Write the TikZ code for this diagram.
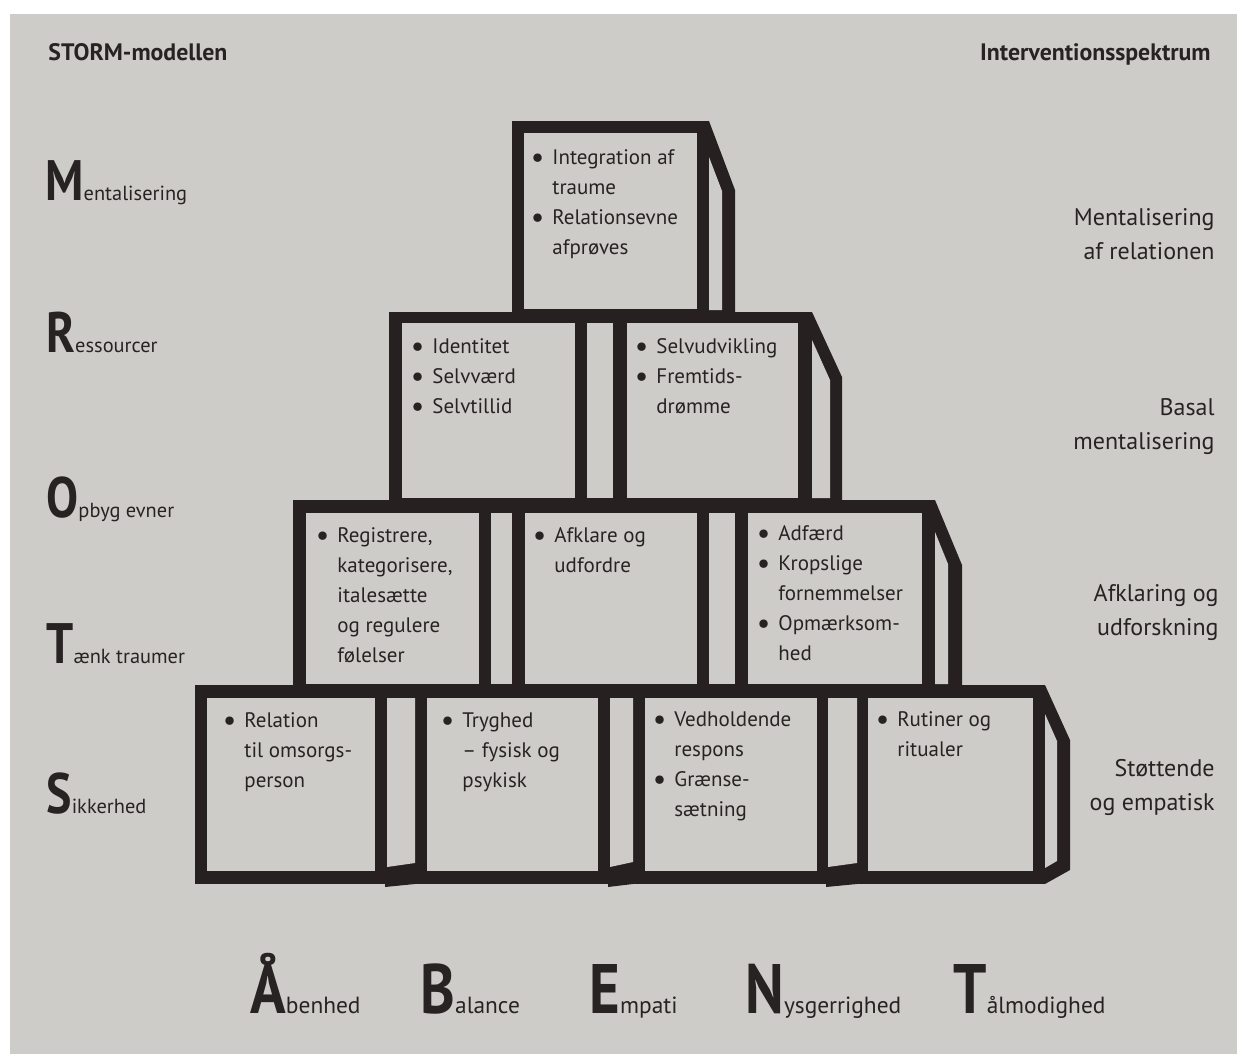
\documentclass[tikz,border=0pt]{standalone}
\usepackage{fontspec}
\setmainfont{PT Sans}
\newfontfamily\capfont{PT Sans}[FakeStretch=0.84]
\definecolor{paper}{RGB}{206,204,200}
\definecolor{ink}{RGB}{38,32,32}
\definecolor{type}{RGB}{40,35,35}
\newcommand\bul{\llap{\raisebox{-1.6pt}{\fontsize{15}{15}\selectfont\textbullet}\hspace{4pt}}}
\newcommand\boxfont{\fontsize{10.5}{15}\selectfont}
\newcommand\stormcap[1]{{\capfont\bfseries\fontsize{28.5}{30}\selectfont #1}}
\newcommand\stormrest[1]{{\fontsize{10.2}{12}\selectfont #1}}
\newcommand\abentcap[1]{{\capfont\bfseries\fontsize{35}{36}\selectfont #1}}
\newcommand\abentrest[1]{{\fontsize{11.7}{14}\selectfont #1}}
\begin{document}
\begin{tikzpicture}[x=0.5pt,y=-0.5pt,
  frame/.style={fill=ink},
  hollow/.style={fill=paper},
  boxtext/.style={anchor=north west,inner sep=0pt,align=left,text=type,font=\boxfont},
  spectrum/.style={anchor=north east,inner sep=0pt,align=right,text=type,font=\fontsize{12}{17}\selectfont},
  letterlbl/.style={anchor=base west,inner sep=0pt,text=type},
  heading/.style={inner sep=0pt,text=type,font=\bfseries\fontsize{11.9}{14}\selectfont}]
\useasboundingbox (0,0) rectangle (1237,1054);
\fill[white] (0,0) rectangle (1237,1054);
\fill[paper] (10,14) rectangle (1237,1054);

% --- top block ---
\fill[frame] (512,121) rectangle (709,312);
\fill[hollow] (524,133) rectangle (697,309);
\fill[frame] (709,121) -- (735,190) -- (735,312) -- (709,312) -- cycle;
\fill[hollow] (709,157) -- (722,191) -- (722,310) -- (709,310) -- cycle;

% --- second row ---
\fill[frame] (389,312) rectangle (812,500);
\fill[hollow] (402,323) rectangle (575,498);
\fill[hollow] (587,323) rectangle (613,498);
\fill[hollow] (627,323) rectangle (798,498);
\fill[frame] (812,312) -- (842,377) -- (842,500) -- (812,500) -- cycle;
\fill[hollow] (812,340) -- (830,380) -- (830,498) -- (812,498) -- cycle;

% --- third row ---
\fill[frame] (293,500) rectangle (935,686);
\fill[hollow] (306,513) rectangle (479,684);
\fill[hollow] (491,513) rectangle (512,684);
\fill[hollow] (525,513) rectangle (697,684);
\fill[hollow] (709,513) rectangle (735,684);
\fill[hollow] (748,513) rectangle (922,684);
\fill[frame] (935,500) -- (962,565) -- (962,686) -- (935,686) -- cycle;
\fill[hollow] (935,532) -- (948,564) -- (948,684) -- (935,684) -- cycle;

% --- bottom row ---
\fill[frame] (195,685) rectangle (1045,884);
\fill[hollow] (207,698) rectangle (375,871);
\fill[hollow] (387,698) -- (415,698) -- (415,863) -- (387,867) -- cycle;
\fill[hollow] (427,698) rectangle (598,871);
\fill[hollow] (610,698) -- (633,698) -- (633,862) -- (610,867) -- cycle;
\fill[hollow] (645,698) rectangle (817,871);
\fill[hollow] (828,698) -- (857,698) -- (857,863) -- (828,867) -- cycle;
\fill[hollow] (868,698) rectangle (1033,871);
\fill[frame] (385,883) -- (415,883) -- (415,884) -- (385,887) -- cycle;
\fill[frame] (608,883) -- (633,883) -- (633,884) -- (608,887) -- cycle;
\fill[frame] (826,883) -- (857,883) -- (857,884) -- (826,887) -- cycle;
\fill[frame] (1045,685) -- (1070,740) -- (1070,870) -- (1045,884) -- cycle;
\fill[hollow] (1045,714) -- (1057,741) -- (1057,861) -- (1045,868) -- cycle;

% --- block contents ---
\node[boxtext] (integration) at (552,143) {\strut\bul Integration af\\traume\\\bul Relationsevne\\afprøves};
\node[boxtext] (identitet) at (432,332) {\strut\bul Identitet\\\bul Selvværd\\\bul Selvtillid};
\node[boxtext] (selvudvikling) at (656,332) {\strut\bul Selvudvikling\\\bul Fremtids-\\drømme};
\node[boxtext] (registrere) at (337,521) {\strut\bul Registrere,\\kategorisere,\\italesætte\\og regulere\\følelser};
\node[boxtext] (afklare) at (554,521) {\strut\bul Afklare og\\udfordre};
\node[boxtext] (adfaerd) at (778,519) {\strut\bul Adfærd\\\bul Kropslige\\fornemmelser\\\bul Opmærksom-\\hed};
\node[boxtext] (relation) at (244,706) {\strut\bul Relation\\til omsorgs-\\person};
\node[boxtext] (tryghed) at (462,706) {\strut\bul Tryghed\\– fysisk og\\psykisk};
\node[boxtext] (vedholdende) at (674,705) {\strut\bul Vedholdende\\respons\\\bul Grænse-\\sætning};
\node[boxtext] (rutiner) at (897,705) {\strut\bul Rutiner og\\ritualer};

% --- headings ---
\node[heading,anchor=base west] (storm) at (48,61) {STORM-modellen};
\node[heading,anchor=base east] (spektrum) at (1211,61) {Interventionsspektrum};

% --- STORM letters ---
\node[letterlbl] (lm) at (45,200) {\stormcap{M}\stormrest{entalisering}};
\node[letterlbl] (lr) at (46,352) {\stormcap{R}\stormrest{essourcer}};
\node[letterlbl] (lo) at (46,517) {\stormcap{O}\stormrest{pbyg evner}};
\node[letterlbl] (lt) at (46,663) {\stormcap{T}\stormrest{ænk traumer}};
\node[letterlbl] (ls) at (46,813) {\stormcap{S}\stormrest{ikkerhed}};

% --- intervention spectrum ---
\node[spectrum] (sp1) at (1215,201) {\strut Mentalisering\\af relationen};
\node[spectrum] (sp2) at (1215,391) {\strut Basal\\mentalisering};
\node[spectrum] (sp3) at (1219,577) {\strut Afklaring og\\udforskning};
\node[spectrum] (sp4) at (1215,752) {\strut Støttende\\og empatisk};

% --- ÅBENT letters ---
\node[letterlbl] (ba) at (250,1013) {\abentcap{Å}\abentrest{benhed}};
\node[letterlbl] (bb) at (420,1013) {\abentcap{B}\abentrest{alance}};
\node[letterlbl] (be) at (589,1013) {\abentcap{E}\abentrest{mpati}};
\node[letterlbl] (bn) at (745,1013) {\abentcap{N}\abentrest{ysgerrighed}};
\node[letterlbl] (bt) at (953,1013) {\abentcap{T}\abentrest{ålmodighed}};
\end{tikzpicture}
\end{document}
